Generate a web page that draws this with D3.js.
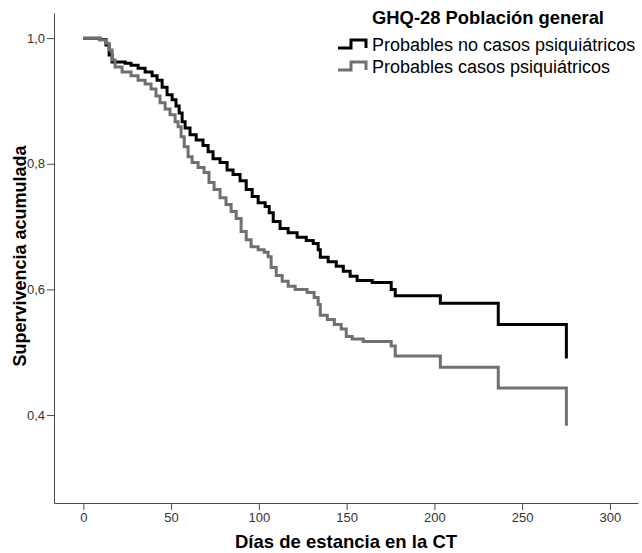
<!DOCTYPE html>
<html>
<head>
<meta charset="utf-8">
<script src="https://cdn.jsdelivr.net/npm/d3@7"></script>
<style>
  body { margin: 0; background: #fff; }
  svg { font-family: "Liberation Sans", Arial, sans-serif; }
</style>
</head>
<body>
<script>
// Chart size
const width = 642;
const height = 553;

// Kaplan-Meier steps: time (days) and cumulative survival
const noCasosDays = [0, 9.5, 12.9, 14.7, 16.4, 23.8, 27.2, 31.2, 35.2, 39.2, 42.0, 44.9, 47.7, 50.6, 52.8, 54.6, 56.3, 58.0, 60.8, 64.3, 68.2, 71.1, 73.9, 77.9, 81.9, 85.3, 89.3, 92.8, 96.2, 99.6, 103.6, 105.9, 108.2, 112.1, 116.7, 121.8, 127.0, 131.0, 133.8, 135.0, 139.5, 144.1, 148.1, 152.0, 156.0, 164.6, 175.4, 177.7, 203.4, 236.4, 275.2];
const noCasosSurv = [1.000, 0.998, 0.989, 0.973, 0.962, 0.960, 0.957, 0.952, 0.946, 0.940, 0.933, 0.922, 0.910, 0.902, 0.892, 0.881, 0.867, 0.857, 0.846, 0.838, 0.829, 0.819, 0.808, 0.802, 0.790, 0.783, 0.773, 0.759, 0.748, 0.738, 0.732, 0.722, 0.708, 0.697, 0.690, 0.683, 0.678, 0.673, 0.663, 0.651, 0.644, 0.637, 0.629, 0.621, 0.614, 0.611, 0.600, 0.590, 0.578, 0.544, 0.490];

const casosDays = [0, 9.5, 12.9, 14.7, 16.4, 18.1, 22.1, 27.2, 31.2, 35.2, 38.6, 41.4, 43.7, 46.6, 49.4, 52.3, 54.0, 55.7, 57.5, 59.7, 62.0, 65.4, 68.8, 71.6, 74.5, 77.9, 81.3, 84.2, 87.1, 89.9, 92.8, 95.6, 99.6, 103.0, 105.3, 107.0, 109.9, 113.3, 116.7, 120.7, 127.5, 131.5, 133.8, 135.0, 139.0, 143.0, 146.9, 149.8, 153.2, 159.5, 175.4, 177.7, 203.4, 236.4, 275.2];
const casosSurv = [1.000, 0.997, 0.992, 0.981, 0.965, 0.954, 0.946, 0.940, 0.933, 0.927, 0.919, 0.908, 0.897, 0.887, 0.878, 0.867, 0.859, 0.843, 0.827, 0.811, 0.802, 0.794, 0.786, 0.770, 0.759, 0.746, 0.735, 0.724, 0.713, 0.692, 0.679, 0.668, 0.663, 0.659, 0.652, 0.635, 0.622, 0.613, 0.605, 0.600, 0.595, 0.587, 0.576, 0.559, 0.552, 0.544, 0.537, 0.525, 0.521, 0.517, 0.510, 0.494, 0.476, 0.443, 0.383];

const xTicks = [0, 50, 100, 150, 200, 250, 300];
const yTicks = [0.4, 0.6, 0.8, 1.0];

const groupNames = ["Probables no casos psiquiátricos", "Probables casos psiquiátricos"];
const groupColors = ["#000000", "#707070"];

const svg = d3.select("body")
  .append("svg")
  .attr("width", width)
  .attr("height", height);

// Scales
const x = d3.scaleLinear().domain([-16.7, 316]).range([54, 638]);
const y = d3.scaleLinear().domain([0.26, 1.04]).range([503, 13]);

// Axes
const xAxis = svg.append("g")
  .attr("transform", `translate(0,503)`)
  .call(d3.axisBottom(x).tickValues(xTicks).tickSize(7).tickSizeOuter(0).tickPadding(3));
const yAxis = svg.append("g")
  .attr("transform", `translate(54,0)`)
  .call(d3.axisLeft(y).tickValues(yTicks).tickSize(7).tickSizeOuter(0).tickPadding(2)
    .tickFormat(d => d3.format(".1f")(d).replace(".", ",")));

[xAxis, yAxis].forEach(g => {
  g.select(".domain").attr("stroke", "#4a4a4a");
  g.selectAll(".tick line").attr("stroke", "#4a4a4a");
  g.selectAll(".tick text")
    .attr("fill", "#333")
    .style("font-size", "13px")
    .style("font-family", "'Liberation Sans', Arial, sans-serif");
});

// Axis titles
svg.append("text")
  .attr("x", 346)
  .attr("y", 548)
  .attr("text-anchor", "middle")
  .style("font-size", "18.5px")
  .style("font-weight", "bold")
  .text("Días de estancia en la CT");

svg.append("text")
  .attr("transform", "translate(26,256) rotate(-90)")
  .attr("text-anchor", "middle")
  .style("font-size", "18px")
  .style("font-weight", "bold")
  .text("Supervivencia acumulada");

// Survival curves
const line = d3.line()
  .x(d => x(d[0]))
  .y(d => y(d[1]))
  .curve(d3.curveStepAfter);

const series = [
  d3.zip(noCasosDays, noCasosSurv),
  d3.zip(casosDays, casosSurv)
];

svg.append("g")
  .selectAll("path")
  .data(series)
  .join("path")
  .attr("d", line)
  .attr("fill", "none")
  .attr("stroke", (d, i) => groupColors[i])
  .attr("stroke-width", 3);

// Legend
const legend = svg.append("g");
legend.append("text")
  .attr("x", 488)
  .attr("y", 24)
  .attr("text-anchor", "middle")
  .style("font-size", "18.4px")
  .style("font-weight", "bold")
  .text("GHQ-28 Población general");

const item = legend.selectAll("g.item")
  .data(groupNames)
  .join("g")
  .attr("class", "item")
  .attr("transform", (d, i) => `translate(0,${i * 22})`);

item.append("path")
  .attr("d", "M338,48H351V40H366V48")
  .attr("fill", "none")
  .attr("stroke", (d, i) => groupColors[i])
  .attr("stroke-width", 3);

item.append("text")
  .attr("x", 372)
  .attr("y", 51)
  .style("font-size", "18px")
  .text(d => d);
</script>
</body>
</html>
